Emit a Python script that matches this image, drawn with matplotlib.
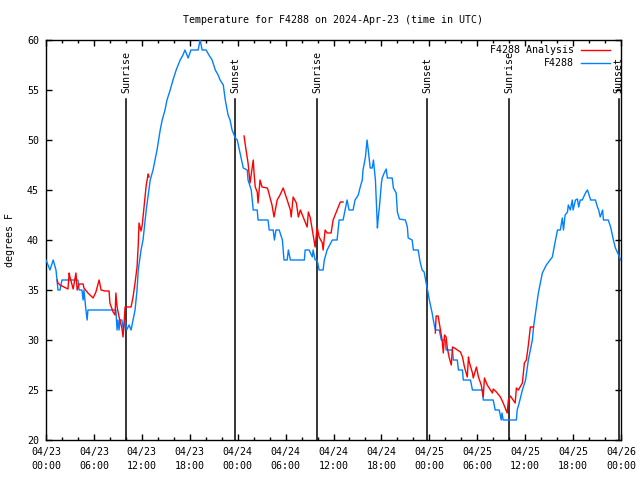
import numpy as np
import matplotlib
matplotlib.use('Agg')
import matplotlib.pyplot as plt
from matplotlib.lines import Line2D

plt.rcParams['font.family'] = ['DejaVu Sans Mono']
plt.rcParams['font.size'] = 7.2

# ---- data (hours since 2024-04-23 00:00 UTC, degrees F) ----
obs_hours = [0.0, 0.25, 0.5, 0.9, 1.25, 1.5, 1.75, 2.0, 3.0, 4.0, 4.15, 4.5, 4.65, 4.75, 5.0, 5.15, 5.25,
             8.75, 8.9, 9.0, 9.15, 9.25, 9.5, 9.7, 9.9, 10.1, 10.4, 10.65, 10.9, 11.15, 11.4, 11.55, 11.9,
             12.15, 12.55, 12.8, 13.05, 13.4, 13.65, 13.9, 14.3, 14.55, 14.9, 15.15, 15.55, 15.9, 16.3,
             16.8, 17.15, 17.4, 17.8, 18.15, 19.05, 19.3, 19.55, 20.05, 20.4, 20.8, 21.2, 21.55, 21.8,
             22.2, 22.45, 22.8, 23.05, 23.3, 23.7, 23.95, 24.3, 24.7, 25.2, 25.3, 25.7, 25.95, 26.45,
             26.55, 27.8, 27.95, 28.45, 28.6, 28.8, 29.2, 29.6, 29.8, 30.2, 30.35, 30.6, 32.35, 32.45,
             32.95, 33.35, 33.45, 33.7, 33.95, 34.2, 34.7, 34.85, 35.2, 35.85, 36.45, 36.7, 37.2, 37.45,
             37.7, 37.95, 38.45, 38.7, 39.1, 39.35, 39.6, 39.7, 40.0, 40.2, 40.35, 40.6, 40.85, 41.0,
             41.25, 41.35, 41.5, 41.6, 41.75, 42.0, 42.1, 42.35, 42.6, 42.75, 43.35, 43.5, 43.85, 44.0,
             44.25, 45.0, 45.25, 45.35, 45.85, 46.0, 46.6, 46.85, 47.1, 47.35, 47.6, 47.85, 48.0, 48.35,
             48.5, 48.75, 49.25, 49.5, 50.0, 50.1, 50.9, 51.0, 51.5, 51.65, 52.15, 52.25, 53.15, 53.4,
             54.65, 54.75, 56.0, 56.25, 56.75, 57.0, 57.1, 57.25, 58.9, 59.0, 59.25, 59.65, 60.05, 60.4,
             60.9, 61.05, 61.3, 61.65, 62.15, 62.65, 63.4, 63.8, 64.05, 64.4, 64.65, 64.8, 65.0, 65.3,
             65.4, 65.65, 65.9, 66.0, 66.3, 66.55, 66.7, 66.9, 67.15, 67.55, 67.8, 68.2, 68.8, 69.05,
             69.2, 69.4, 69.7, 69.8, 70.4, 70.7, 71.05, 71.3, 71.7, 71.95]
obs_temps = [38.0, 37.5, 37.0, 38.0, 37.0, 35.0, 35.0, 36.0, 36.0, 36.0, 35.0, 35.0, 34.0, 35.0, 33.0, 32.0, 33.0,
             33.0, 31.0, 32.0, 31.0, 32.0, 32.0, 31.0, 32.0, 31.0, 31.5, 31.0, 32.0, 33.0, 35.0, 37.0, 39.0,
             40.0, 43.0, 44.5, 46.0, 47.0, 48.0, 49.0, 51.0, 52.0, 53.0, 54.0, 55.0, 56.0, 57.0,
             58.0, 58.5, 59.0, 58.2, 59.0, 59.0, 60.0, 59.0, 59.0, 58.5, 58.0, 57.0, 56.5, 56.0,
             55.5, 54.0, 52.5, 52.0, 51.0, 50.2, 50.0, 48.7, 47.2, 47.0, 46.0, 45.0, 43.0, 43.0,
             42.0, 42.0, 41.0, 41.0, 40.0, 41.0, 41.0, 40.0, 38.0, 38.0, 39.0, 38.0, 38.0, 39.0,
             39.0, 38.3, 39.0, 38.0, 38.0, 37.0, 37.0, 38.0, 39.0, 40.0, 40.0, 42.0, 42.0, 43.0,
             44.0, 43.0, 43.0, 44.0, 44.5, 45.3, 46.0, 47.0, 48.3, 50.0, 49.0, 47.2, 47.2, 48.0,
             46.0, 44.0, 41.2, 42.2, 43.3, 45.7, 46.2, 46.7, 47.1, 46.2, 46.2, 45.2, 44.7, 42.8,
             42.1, 42.0, 41.3, 40.2, 40.0, 39.0, 39.0, 37.8, 37.0, 36.8, 35.7, 34.7, 34.0, 32.7,
             32.0, 31.0, 31.0, 30.0, 30.0, 29.0, 29.0, 28.0, 28.0, 27.0, 27.0, 26.0, 26.0, 25.0,
             25.0, 24.0, 24.0, 23.0, 23.0, 22.0, 22.7, 22.0, 22.0, 23.0, 23.7, 25.0, 26.0, 28.0,
             30.0, 31.3, 32.7, 34.7, 36.7, 37.5, 38.3, 40.0, 41.0, 41.0, 42.2, 41.0, 42.5, 42.8,
             43.5, 43.0, 44.0, 43.0, 44.0, 44.1, 43.3, 44.0, 44.0, 44.7, 45.0, 44.0, 44.0, 43.3,
             43.0, 42.3, 43.0, 42.0, 42.0, 41.3, 40.0, 39.2, 38.5, 38.0]

ana_hours = [1.4, 1.5, 1.75, 2.25, 2.75, 2.9, 3.0, 3.4, 3.75, 3.9, 4.15, 4.65, 4.75, 5.25, 5.9, 6.25, 6.65,
             6.9, 7.4, 7.9, 8.0, 8.4, 8.65, 8.75, 8.9, 9.15, 9.5, 9.65, 9.8, 9.9, 10.65, 10.9, 11.15,
             11.4, 11.55, 11.65, 11.9, 12.05, 12.3, 12.55, 12.8, 12.9, np.nan,
             24.8, 25.05, 25.3, 25.55, 25.95, 26.05, 26.2, 26.45, 26.55, 26.8, 27.05, 27.7, 27.8, 28.3,
             28.55, 28.95, 29.3, 29.7, 30.2, 30.6, 30.7, 30.95, 31.35, 31.6, 31.85, 32.2, 32.7, 32.85,
             33.1, 33.35, 33.7, 33.95, 34.2, 34.6, 34.7, 34.95, 35.2, 35.7, 35.95, 36.2, 36.6, 36.85,
             37.2, np.nan,
             48.75, 48.85, 49.1, 49.35, 49.6, 49.75, 49.9, 50.1, 50.25, 50.5, 50.75, 50.9, 51.15, 51.9,
             52.15, 52.4, 52.75, 52.9, 53.0, 53.4, 53.5, 53.9, 54.15, 54.5, 54.75, 54.9, 55.25, 55.65,
             55.9, 56.0, 56.4, 56.9, 57.25, 57.75, 57.9, 58.15, 58.5, 58.75, 58.9, 59.15, 59.65, 59.9,
             60.15, 60.4, 60.65, 61.05]
ana_temps = [36.0, 35.7, 35.5, 35.3, 35.1, 36.7, 36.3, 35.1, 36.7, 35.0, 35.6, 35.6, 35.2, 34.7, 34.2, 34.8, 36.0,
             35.0, 34.9, 34.9, 33.7, 32.8, 32.5, 34.7, 33.3, 32.3, 31.2, 30.3, 32.0, 33.3, 33.3, 34.3, 35.7,
             37.3, 39.5, 41.7, 40.9, 41.5, 43.5, 45.5, 46.6, 46.3, np.nan,
             50.4, 49.0, 47.7, 45.7, 48.0, 46.7, 45.3, 44.8, 43.7, 46.0, 45.3, 45.2, 45.0, 43.5,
             42.3, 44.0, 44.5, 45.2, 44.0, 43.0, 42.3, 44.3, 43.7, 42.3, 43.0, 42.3, 41.3, 42.8,
             42.2, 41.0, 39.3, 41.3, 40.3, 39.7, 39.0, 41.0, 40.7, 40.7, 42.0, 42.5, 43.3, 43.8,
             43.8, np.nan,
             30.7, 32.4, 32.4, 31.2, 30.0, 28.7, 30.5, 30.3, 29.2, 28.2, 27.5, 29.3, 29.2, 28.8,
             28.3, 27.3, 26.3, 28.3, 27.8, 26.7, 26.2, 27.3, 26.3, 25.5, 24.3, 26.2, 25.5, 25.0,
             24.7, 25.1, 24.8, 24.3, 23.7, 22.7, 24.0, 24.4, 24.0, 23.7, 25.2, 25.0, 25.7, 27.7,
             28.0, 29.5, 31.3, 31.3]

sunrise_hours = [10.03, 33.96, 58.0]
sunset_hours = [23.7, 47.74, 71.73]

tick_hours = [0, 6, 12, 18, 24, 30, 36, 42, 48, 54, 60, 66, 72]
tick_labels = ['04/23\n00:00', '04/23\n06:00', '04/23\n12:00', '04/23\n18:00',
               '04/24\n00:00', '04/24\n06:00', '04/24\n12:00', '04/24\n18:00',
               '04/25\n00:00', '04/25\n06:00', '04/25\n12:00', '04/25\n18:00',
               '04/26\n00:00']
y_ticks = [20, 25, 30, 35, 40, 45, 50, 55, 60]

FS = 7.2

# ---- figure ----
fig = plt.figure(figsize=(6.4, 4.8), dpi=100)
ax = fig.add_axes([46/640, 40/480, 575/640, 400/480])

ax.plot(obs_hours, obs_temps, color='#0080ff', lw=1.0, zorder=3)
ax.plot(ana_hours, ana_temps, color='#ff0000', lw=1.0, zorder=4)

for h in sunrise_hours:
    ax.plot([h, h], [20, 54.1], color='black', lw=1.1, zorder=2)
    ax.text(h, 54.7, 'Sunrise', rotation=90, ha='center', va='bottom', fontsize=FS)
for h in sunset_hours:
    ax.plot([h, h], [20, 54.1], color='black', lw=1.1, zorder=2)
    ax.text(h, 54.7, 'Sunset', rotation=90, ha='center', va='bottom', fontsize=FS)

ax.set_xlim(0, 72)
ax.set_ylim(20, 60)
ax.set_xticks(tick_hours)
ax.set_xticklabels(tick_labels, linespacing=1.55)
ax.set_xticks(np.arange(0, 73, 2), minor=True)
ax.set_yticks(y_ticks)
ax.tick_params(axis='both', which='major', direction='in', length=4, width=1,
               top=True, right=True, labelsize=FS, pad=5)
ax.tick_params(axis='x', which='minor', direction='in', length=2, width=1, top=True)
for s in ax.spines.values():
    s.set_linewidth(1.0)

fig.text(333/640, 1 - 20/480, 'Temperature for F4288 on 2024-Apr-23 (time in UTC)',
         ha='center', va='center', fontsize=FS)
fig.text(10/640, 1 - 240/480, 'degrees F', rotation=90, ha='center', va='center', fontsize=FS)

# legend
fig.text(574/640, 1 - 50/480, 'F4288 Analysis', ha='right', va='center', fontsize=FS)
fig.text(574/640, 1 - 63/480, 'F4288', ha='right', va='center', fontsize=FS)
fig.add_artist(Line2D([581/640, 610/640], [1 - 50/480, 1 - 50/480], color='#ff0000', lw=1.0))
fig.add_artist(Line2D([581/640, 610/640], [1 - 63/480, 1 - 63/480], color='#0080ff', lw=1.0))

fig.savefig('out.png', dpi=100)
